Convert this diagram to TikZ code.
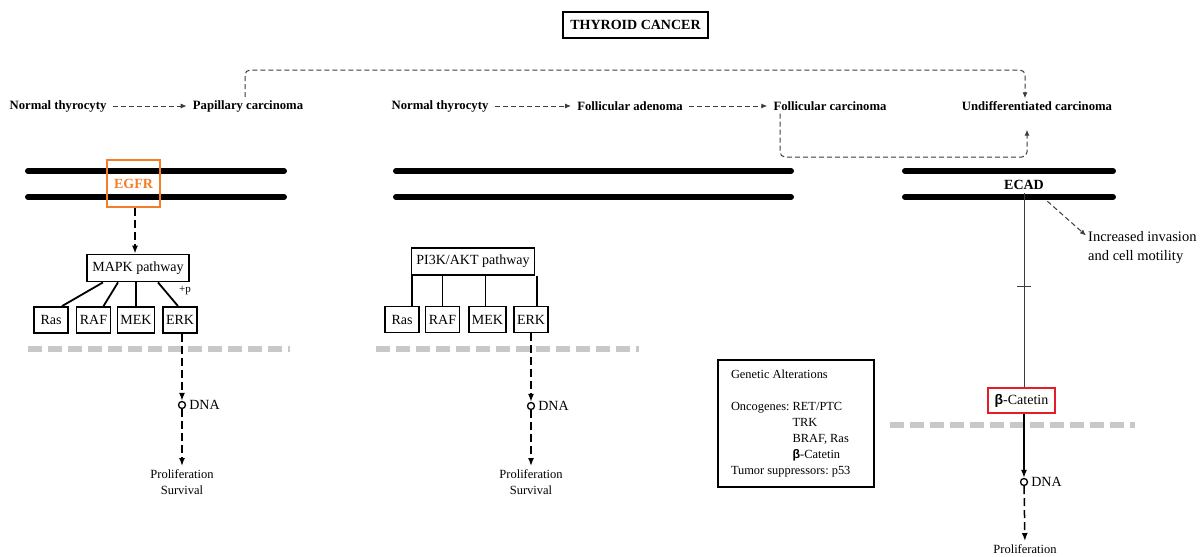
\documentclass[tikz,border=0pt]{standalone}
\usepackage{fontspec}
\setmainfont{Liberation Serif}
\newfontfamily\grkfont{Liberation Sans}
\usepackage{tikz}
\usetikzlibrary{positioning, arrows.meta, calc}
\definecolor{tcOrange}{RGB}{245, 125, 40}
\definecolor{tcRed}{RGB}{228, 30, 40}
\definecolor{tcGray}{RGB}{60, 60, 60}
\definecolor{tcLight}{RGB}{200, 200, 200}
\newcommand{\bcat}{{\grkfont\bfseries β}-Catetin}
\frenchspacing
\tikzset{
    base/.style={
        font=\fontsize{14}{16}\selectfont,
        align=center
    },
    titlebox/.style={
        base,
        draw,
        line width=1.8pt,
        font=\fontsize{14}{16}\selectfont\bfseries,
        minimum width=145pt,
        minimum height=26pt,
        inner sep=0pt
    },
    stage/.style={
        font=\fontsize{12.7}{14}\selectfont\bfseries,
        inner xsep=6pt,
        inner ysep=3pt
    },
    stageflow/.style={
        -{Latex[length=6pt, width=5pt]},
        tcGray,
        line width=1pt,
        dash pattern=on 5pt off 3pt
    },
    bypass/.style={
        stageflow,
        rounded corners=5pt
    },
    membrane/.style={
        line width=6pt,
        line cap=round
    },
    cytoline/.style={
        tcLight,
        line width=6pt,
        dash pattern=on 14pt off 6pt
    },
    receptor/.style={
        base,
        draw=tcOrange,
        text=tcOrange,
        line width=2pt,
        font=\fontsize{14}{16}\selectfont\bfseries,
        minimum width=53pt,
        minimum height=47pt
    },
    pathbox/.style={
        base,
        draw,
        line width=1.8pt,
        minimum height=27pt,
        inner xsep=5pt
    },
    sigbox/.style={
        base,
        draw,
        line width=1.8pt,
        minimum width=34pt,
        minimum height=26pt,
        inner xsep=3pt,
        inner ysep=0pt
    },
    branch/.style={
        line width=1.8pt
    },
    sigflow/.style={
        -{Latex[length=8pt, width=6pt]},
        line width=1.5pt,
        dash pattern=on 8pt off 4pt
    },
    dnasite/.style={
        circle,
        draw,
        line width=1.3pt,
        fill=white,
        minimum size=7pt,
        inner sep=0pt
    },
    outcome/.style={
        base,
        font=\fontsize{12.5}{16}\selectfont
    },
    notebox/.style={
        draw,
        line width=1.8pt,
        font=\fontsize{12.4}{16}\selectfont,
        align=flush left,
        text width=130pt,
        minimum width=156pt,
        minimum height=127pt,
        inner xsep=13pt
    },
    inhibit/.style={
        tcGray,
        line width=1pt
    }
}

\begin{document}
\begin{tikzpicture}[x=1pt, y=-1pt]
  \useasboundingbox (0,0) rectangle (1203,557);

  \node[titlebox] (title) at (635.5,25) {THYROID CANCER};

  \node[stage] (normA) at (58,106) {Normal thyrocyty};
  \node[stage] (papca) at (248,106) {Papillary carcinoma};
  \node[stage] (normB) at (440,106) {Normal thyrocyty};
  \node[stage] (follad) at (630,106) {Follicular adenoma};
  \node[stage] (follca) at (830,106) {Follicular carcinoma};
  \node[stage] (undiff) at (1037,106) {Undifferentiated carcinoma};

  \draw[stageflow] (normA) -- (papca);
  \draw[stageflow] (normB) -- (follad);
  \draw[stageflow] (follad) -- (follca);

  \coordinate (topturn) at (1025,70);
  \coordinate (lowturn) at (1027,157);
  \draw[bypass] ([xshift=-3pt]papca.north) |- (topturn) -- (topturn |- undiff.north);
  \draw[bypass, shorten >=16pt] ([xshift=-50pt]follca.south) |- (lowturn) -- (lowturn |- undiff.south);

  \foreach \y in {171,197} {
    \draw[membrane] (28,\y) -- (284,\y);
    \draw[membrane] (396,\y) -- (791,\y);
    \draw[membrane] (905,\y) -- (1113,\y);
  }
  \draw[cytoline] (28,349) -- (290,349);
  \draw[cytoline] (376,349) -- (639,349);
  \draw[cytoline] (890,425) -- (1135,425);

  % MAPK branch
  \node[receptor] (egfr) at (133.5,183.5) {EGFR};
  \node[pathbox] (mapk) at (138,268) {MAPK pathway};
  \node[sigbox] (mras) at (51,320) {Ras};
  \node[sigbox] (mraf) at (93.5,320) {RAF};
  \node[sigbox] (mmek) at (136,320) {MEK};
  \node[sigbox] (merk) at (180,320) {ERK};
  \node[base, font=\fontsize{11}{12}\selectfont, inner sep=0pt] (phos) at (185,291) {+p};

  \draw[sigflow] ([xshift=1.5pt]egfr.south) -- ([xshift=1.5pt]egfr.south |- mapk.north);
  \draw[branch] ([xshift=-35pt]mapk.south) -- ([xshift=11pt]mras.north);
  \draw[branch] ([xshift=-20pt]mapk.south) -- ([xshift=10pt]mraf.north);
  \draw[branch] (mapk.south -| mmek.north) -- (mmek.north);
  \draw[branch] ([xshift=20pt]mapk.south) -- ([xshift=-2pt]merk.north);

  \node[dnasite, label={[base, inner sep=3pt]right:DNA}] (dnaA) at (182,405) {};
  \node[outcome] (outA) at (182,482) {Proliferation\\Survival};
  \draw[sigflow] (dnaA |- merk.south) -- (dnaA);
  \draw[sigflow] (dnaA) -- (outA);

  % PI3K/AKT branch
  \node[pathbox] (pi3k) at (473,261.5) {PI3K/AKT pathway};
  \node[sigbox] (pras) at (402,319.5) {Ras};
  \node[sigbox] (praf) at (442.5,319.5) {RAF};
  \node[sigbox] (pmek) at (487.5,319.5) {MEK};
  \node[sigbox] (perk) at (531,319.5) {ERK};

  \draw[branch] ([xshift=10pt]pras.north) -- ([xshift=10pt]pras.north |- pi3k.south);
  \draw[branch] (praf.north) -- (praf.north |- pi3k.south);
  \draw[branch] ([xshift=-2pt]pmek.north) -- ([xshift=-2pt]pmek.north |- pi3k.south);
  \draw[branch] ([xshift=6pt]perk.north) -- ([xshift=6pt]perk.north |- pi3k.south);

  \node[dnasite, label={[base, inner sep=3pt]right:DNA}] (dnaB) at (531,406) {};
  \node[outcome] (outB) at (531,482) {Proliferation\\Survival};
  \draw[sigflow] (dnaB |- perk.south) -- (dnaB);
  \draw[sigflow] (dnaB) -- (outB);

  \node[notebox] (alter) at (796,423.5) {Genetic Alterations\\\mbox{}\\Oncogenes: RET/PTC\\\hphantom{Oncogenes: }TRK\\\hphantom{Oncogenes: }BRAF, Ras\\\hphantom{Oncogenes: }\bcat\\Tumor suppressors: p53};

  % ECAD branch
  \node[base, font=\fontsize{14}{16}\selectfont\bfseries] (ecad) at (1024,185) {ECAD};
  \node[base, draw=tcRed, line width=2pt, minimum width=67pt, minimum height=25pt, inner sep=0pt] (betacat) at (1021.5,400.5) {\bcat};
  \node[base, align=left, anchor=west, font=\fontsize{14.5}{19}\selectfont, inner sep=2pt] (invasion) at (1086,247.5) {Increased invasion\\and cell motility};

  \draw[inhibit] (ecad.south) -- coordinate[pos=0.48] (teemid) (ecad.south |- betacat.north);
  \draw[inhibit] ([xshift=-7pt]teemid) -- ([xshift=7pt]teemid);
  \draw[stageflow] ([yshift=-8pt]ecad.south east) -- ([yshift=12pt]invasion.west);

  \node[dnasite, label={[base, inner sep=3pt]right:DNA}] (dnaC) at (1024,482) {};
  \node[outcome] (outC) at (1025,549) {Proliferation};
  \draw[-{Latex[length=8pt, width=6pt]}, line width=1.5pt] (betacat.south -| dnaC) -- (dnaC);
  \draw[sigflow] (dnaC) -- (outC);
\end{tikzpicture}
\end{document}
